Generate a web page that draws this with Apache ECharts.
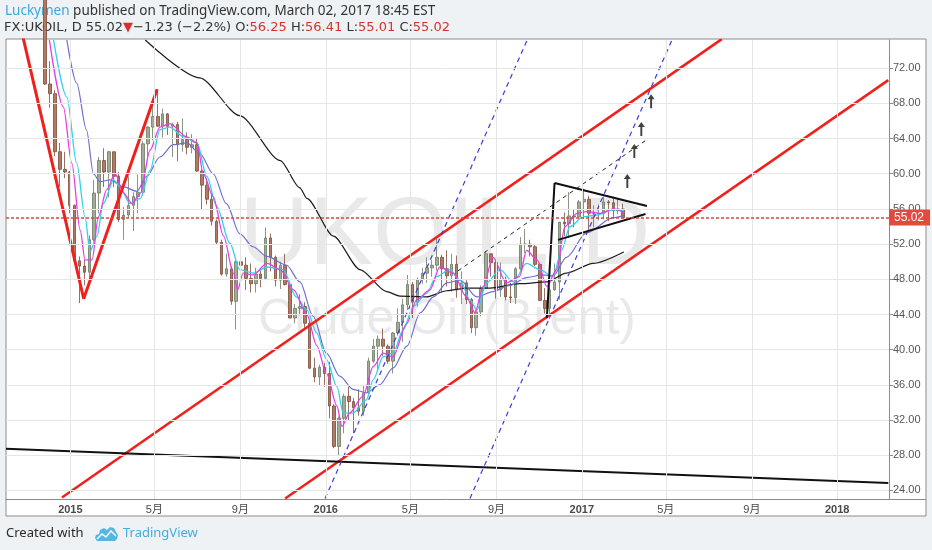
<!DOCTYPE html>
<html>
<head>
<meta charset="utf-8">
<title>UKOIL, D</title>
<script src="https://cdn.jsdelivr.net/npm/echarts@6/dist/echarts.min.js"></script>
<style>
  html, body { margin: 0; padding: 0; background: #eef2f5; }
  #main { width: 932px; height: 550px; }
</style>
</head>
<body>
<div id="main"></div>
<script>
// weekly bars (mid-week date)
var weeks = [
  '2014-11-26', '2014-12-03', '2014-12-10', '2014-12-17', '2014-12-24', '2014-12-31',
  '2015-01-07', '2015-01-14', '2015-01-21', '2015-01-28', '2015-02-04', '2015-02-11', '2015-02-18', '2015-02-25',
  '2015-03-04', '2015-03-11', '2015-03-18', '2015-03-25', '2015-04-01', '2015-04-08', '2015-04-15', '2015-04-22',
  '2015-04-29', '2015-05-06', '2015-05-13', '2015-05-20', '2015-05-27', '2015-06-03', '2015-06-10', '2015-06-17',
  '2015-06-24', '2015-07-01', '2015-07-08', '2015-07-15', '2015-07-22', '2015-07-29', '2015-08-05', '2015-08-12',
  '2015-08-19', '2015-08-26', '2015-09-02', '2015-09-09', '2015-09-16', '2015-09-23', '2015-09-30', '2015-10-07',
  '2015-10-14', '2015-10-21', '2015-10-28', '2015-11-04', '2015-11-11', '2015-11-18', '2015-11-25', '2015-12-02',
  '2015-12-09', '2015-12-16', '2015-12-23', '2015-12-30',
  '2016-01-06', '2016-01-13', '2016-01-20', '2016-01-27', '2016-02-03', '2016-02-10', '2016-02-17', '2016-02-24',
  '2016-03-02', '2016-03-09', '2016-03-16', '2016-03-23', '2016-03-30', '2016-04-06', '2016-04-13', '2016-04-20',
  '2016-04-27', '2016-05-04', '2016-05-11', '2016-05-18', '2016-05-25', '2016-06-01', '2016-06-08', '2016-06-15',
  '2016-06-22', '2016-06-29', '2016-07-06', '2016-07-13', '2016-07-20', '2016-07-27', '2016-08-03', '2016-08-10',
  '2016-08-17', '2016-08-24', '2016-08-31', '2016-09-07', '2016-09-14', '2016-09-21', '2016-09-28', '2016-10-05',
  '2016-10-12', '2016-10-19', '2016-10-26', '2016-11-02', '2016-11-09', '2016-11-16', '2016-11-23', '2016-11-30',
  '2016-12-07', '2016-12-14', '2016-12-21', '2016-12-28',
  '2017-01-04', '2017-01-11', '2017-01-18', '2017-01-25', '2017-02-01', '2017-02-08', '2017-02-15', '2017-02-22',
  '2017-03-01'
]
var opens = [
  80.0, 70.2, 69.1, 62.5, 60.5, 60.2,
  56.4, 50.1, 49.5, 48.8, 52.5, 57.8, 61.5, 60.2,
  62.5, 59.7, 54.8, 55.3, 56.4, 57.4, 57.9, 63.4,
  65.3, 66.5, 65.4, 66.8, 65.4, 65.6, 63.3, 63.9,
  63.0, 63.3, 60.3, 58.7, 57.1, 54.6, 52.2, 48.6,
  49.2, 45.5, 50.0, 49.6, 48.1, 47.5, 48.6, 48.1,
  52.7, 50.5, 47.9, 49.6, 47.4, 43.6, 44.7, 44.9,
  43.0, 37.9, 36.9, 38.0,
  37.3, 33.6, 29.0, 32.2, 34.7, 34.1, 33.4, 33.0,
  35.1, 38.7, 40.4, 41.2, 40.4, 38.7, 41.9, 43.1,
  45.1, 47.4, 45.4, 48.0, 48.7, 49.3, 49.6, 50.5,
  49.2, 48.4, 49.7, 46.8, 47.6, 45.7, 42.5, 44.3,
  47.0, 50.9, 49.9, 46.8, 48.0, 46.0, 45.9, 49.2,
  52.0, 52.0, 51.7, 49.7, 45.6, 44.7, 46.8, 47.7,
  54.5, 54.3, 55.2, 55.1,
  56.8, 57.1, 55.5, 55.5, 55.5, 56.8, 56.7, 55.8,
  56.0
]
var highs = [
  80.5, 72.8, 69.5, 63.5, 62.5, 60.3,
  56.5, 50.6, 50.2, 53.0, 59.3, 61.9, 62.9, 62.6,
  62.5, 60.2, 56.2, 59.7, 57.9, 59.9, 63.7, 65.4,
  67.8, 69.6, 67.4, 66.9, 65.8, 65.9, 66.3, 64.7,
  64.5, 64.0, 60.5, 59.5, 57.8, 54.8, 52.5, 50.9,
  49.5, 50.5, 54.3, 50.5, 49.8, 49.3, 49.0, 53.9,
  53.2, 50.7, 50.0, 50.9, 47.8, 45.2, 46.3, 45.4,
  43.3, 39.1, 38.3, 38.5,
  38.6, 33.8, 32.4, 35.0, 35.8, 34.5, 35.5, 35.9,
  39.1, 41.2, 41.6, 42.4, 40.6, 42.0, 44.7, 45.8,
  48.5, 47.7, 48.2, 49.3, 50.5, 50.2, 52.8, 50.8,
  51.3, 50.9, 50.7, 48.9, 47.9, 45.9, 44.5, 47.3,
  51.2, 50.9, 50.2, 49.9, 48.3, 47.6, 49.4, 52.8,
  53.7, 52.5, 51.9, 49.9, 47.0, 47.2, 49.8, 54.5,
  55.6, 57.9, 55.9, 57.0,
  58.3, 57.5, 56.4, 56.5, 57.4, 57.0, 57.4, 57.1,
  56.6
]
var lows = [
  70.1, 67.5, 62.0, 58.5, 59.5, 55.5,
  49.7, 45.3, 47.3, 47.5, 52.3, 55.5, 58.5, 57.3,
  58.5, 54.5, 52.5, 55.0, 53.5, 55.5, 57.5, 61.5,
  63.8, 65.5, 64.1, 64.4, 61.9, 61.4, 62.5, 62.2,
  62.3, 60.2, 55.9, 56.5, 54.1, 51.9, 48.4, 48.3,
  45.1, 42.3, 48.5, 46.8, 46.5, 46.5, 47.1, 47.9,
  48.9, 47.2, 46.9, 47.3, 43.6, 43.0, 43.9, 42.5,
  37.8, 36.3, 35.9, 35.8,
  32.2, 28.8, 27.9, 30.5, 32.0, 30.5, 32.5, 32.5,
  34.9, 38.5, 37.5, 39.3, 38.4, 37.3, 41.6, 40.9,
  44.5, 43.6, 44.9, 47.5, 47.6, 48.3, 49.0, 46.6,
  47.2, 46.6, 45.9, 45.2, 45.2, 41.9, 41.6, 43.8,
  46.9, 48.3, 45.8, 46.0, 45.6, 45.3, 45.2, 49.0,
  51.0, 50.6, 49.5, 45.6, 44.1, 43.5, 46.7, 45.7,
  52.9, 52.7, 53.9, 54.9,
  54.9, 53.6, 53.9, 54.7, 54.8, 54.6, 55.0, 55.4,
  55.0
]
var closes = [
  70.2, 69.1, 62.5, 60.5, 60.2, 56.4,
  50.1, 49.5, 48.8, 52.5, 57.8, 61.5, 60.2, 62.5,
  59.7, 54.8, 55.3, 56.4, 57.4, 57.9, 63.4, 65.3,
  66.5, 65.4, 66.8, 65.4, 65.6, 63.3, 63.9, 63.0,
  63.3, 60.3, 58.7, 57.1, 54.6, 52.2, 48.6, 49.2,
  45.5, 50.0, 49.6, 48.1, 47.5, 48.6, 48.1, 52.7,
  50.5, 47.9, 49.6, 47.4, 43.6, 44.7, 44.9, 43.0,
  37.9, 36.9, 38.0, 37.3,
  33.6, 29.0, 32.2, 34.7, 34.1, 33.4, 33.0, 35.1,
  38.7, 40.4, 41.2, 40.4, 38.7, 41.9, 43.1, 45.1,
  47.4, 45.4, 48.0, 48.7, 49.3, 49.6, 50.5, 49.2,
  48.4, 49.7, 46.8, 47.6, 45.7, 42.5, 44.3, 47.0,
  50.9, 49.9, 46.8, 48.0, 46.0, 45.9, 49.2, 52.0,
  52.0, 51.7, 49.7, 45.6, 44.7, 46.8, 47.7, 54.5,
  54.3, 55.2, 55.1, 56.8,
  57.1, 55.5, 55.5, 55.5, 56.8, 56.7, 55.8, 56.0,
  55.02
]

// moving averages as drawn (fast magenta, cyan, slow slate, black 200)
var maFast = [
  ['2014-12-02', 75.2], ['2014-12-22', 67.6], ['2015-01-03', 61.2], ['2015-01-15', 53.6],
  ['2015-01-22', 50.2], ['2015-02-01', 50.2], ['2015-02-10', 55.1], ['2015-02-22', 58.2], ['2015-03-06', 60.0],
  ['2015-03-18', 57.8], ['2015-03-30', 56.6], ['2015-04-11', 57.8], ['2015-04-25', 62.7], ['2015-05-09', 65.3],
  ['2015-05-23', 65.7], ['2015-06-16', 64.2], ['2015-07-01', 63.5], ['2015-07-10', 60.0], ['2015-07-24', 57.4],
  ['2015-08-08', 52.9], ['2015-08-22', 48.7], ['2015-08-28', 46.8], ['2015-09-05', 48.7], ['2015-09-19', 48.5],
  ['2015-10-09', 49.8], ['2015-10-28', 49.1], ['2015-11-16', 46.8], ['2015-12-05', 44.0], ['2015-12-19', 40.5],
  ['2016-01-02', 37.3], ['2016-01-17', 33.6], ['2016-01-24', 31.3], ['2016-02-04', 32.8], ['2016-02-23', 34.7],
  ['2016-03-09', 38.1], ['2016-03-23', 39.6], ['2016-04-06', 39.2], ['2016-04-26', 43.0], ['2016-05-10', 45.7],
  ['2016-05-29', 46.8], ['2016-06-12', 49.4], ['2016-07-01', 48.7], ['2016-07-20', 46.0], ['2016-08-01', 44.2],
  ['2016-08-13', 47.2], ['2016-08-27', 50.5], ['2016-09-15', 47.6], ['2016-10-04', 48.3], ['2016-10-14', 51.3],
  ['2016-10-29', 50.2], ['2016-11-12', 47.2], ['2016-11-26', 49.1], ['2016-12-08', 54.0], ['2016-12-25', 55.5],
  ['2017-01-08', 55.7], ['2017-01-27', 55.5], ['2017-02-15', 56.0], ['2017-03-02', 55.6]
]
var maMid = [
  ['2014-12-08', 75.2], ['2014-12-27', 68.7], ['2015-01-10', 61.2], ['2015-01-22', 55.1],
  ['2015-01-29', 51.2], ['2015-02-08', 52.9], ['2015-02-17', 56.6], ['2015-03-04', 59.3], ['2015-03-13', 58.5],
  ['2015-03-27', 56.6], ['2015-04-11', 57.2], ['2015-04-25', 60.4], ['2015-05-09', 65.0], ['2015-05-23', 65.3],
  ['2015-06-12', 64.2], ['2015-07-01', 63.5], ['2015-07-15', 59.7], ['2015-07-29', 56.3], ['2015-08-17', 52.1],
  ['2015-08-31', 49.1], ['2015-09-20', 48.7], ['2015-10-09', 49.4], ['2015-11-01', 49.1], ['2015-11-20', 46.0],
  ['2015-12-05', 44.5], ['2015-12-19', 41.9], ['2016-01-02', 38.9], ['2016-01-17', 35.8], ['2016-01-26', 32.8],
  ['2016-02-09', 32.8], ['2016-02-28', 34.3], ['2016-03-09', 36.6], ['2016-03-23', 39.2], ['2016-04-06', 39.6],
  ['2016-04-21', 42.3], ['2016-05-05', 44.9], ['2016-05-24', 46.4], ['2016-06-07', 48.3], ['2016-06-26', 49.1],
  ['2016-07-11', 47.9], ['2016-07-25', 45.7], ['2016-08-04', 44.5], ['2016-08-18', 47.6], ['2016-09-06', 49.1],
  ['2016-09-25', 47.7], ['2016-10-14', 49.8], ['2016-11-02', 49.1], ['2016-11-21', 48.3], ['2016-12-03', 51.3],
  ['2016-12-15', 54.0], ['2017-01-03', 55.1], ['2017-01-22', 55.3], ['2017-02-15', 55.9], ['2017-03-02', 55.8]
]
var maSlow = [
  ['2014-12-27', 75.2], ['2015-01-10', 70.3], ['2015-01-24', 65.0], ['2015-02-03', 60.0],
  ['2015-02-12', 59.1], ['2015-02-27', 59.3], ['2015-03-18', 58.5], ['2015-04-06', 58.0], ['2015-04-20', 59.7],
  ['2015-05-09', 61.9], ['2015-05-28', 63.3], ['2015-06-16', 63.5], ['2015-07-05', 62.3], ['2015-07-24', 60.0],
  ['2015-08-12', 56.6], ['2015-08-31', 53.2], ['2015-09-19', 51.7], ['2015-10-09', 50.6], ['2015-11-06', 49.6],
  ['2015-11-25', 47.7], ['2015-12-14', 43.8], ['2016-01-02', 39.6], ['2016-01-21', 37.0], ['2016-02-09', 35.5],
  ['2016-02-28', 35.1], ['2016-03-18', 36.0], ['2016-04-06', 37.9], ['2016-04-26', 40.4], ['2016-05-15', 44.2],
  ['2016-06-03', 46.0], ['2016-06-22', 47.6], ['2016-07-11', 47.9], ['2016-08-04', 46.0], ['2016-08-27', 46.6],
  ['2016-09-20', 47.3], ['2016-10-14', 48.2], ['2016-11-05', 48.5], ['2016-11-21', 48.4], ['2016-12-10', 50.5],
  ['2017-01-08', 53.3], ['2017-02-15', 55.0], ['2017-03-02', 55.3]
]
var ma200 = [
  ['2015-04-18', 75.2], ['2015-07-05', 70.9], ['2015-08-31', 66.6], ['2015-10-28', 61.5],
  ['2015-11-25', 58.4], ['2015-12-05', 57.2], ['2016-01-12', 52.9], ['2016-02-19', 49.1], ['2016-03-28', 46.6],
  ['2016-04-16', 46.1], ['2016-05-24', 46.0], ['2016-06-22', 46.7], ['2016-07-20', 47.0], ['2016-08-23', 47.0],
  ['2016-10-04', 47.5], ['2016-11-12', 47.7], ['2016-12-10', 48.7], ['2017-01-17', 49.8], ['2017-03-02', 51.1]
]

// hand drawn objects: anchor points [date, price]
var vPattern = [['2014-10-22', 76.65], ['2015-01-20', 45.8], ['2015-05-05', 69.6]]
var channelUpper = [['2014-12-20', 23.19], ['2017-07-20', 75.3]]
var channelLower = [['2015-11-04', 23.08], ['2018-03-15', 70.64]]
var supportLine = [['2014-10-01', 28.73], ['2018-03-15', 24.86]]
var blueLeft = [['2015-12-31', 23.08], ['2016-10-16', 75.4]]
var blueRight = [['2016-07-25', 23.08], ['2017-05-11', 75.4]]
var dashedTrend = [['2016-07-08', 48.96], ['2017-04-05', 63.94]]
var flagPole = [['2016-11-12', 43.6], ['2016-11-23', 58.95]]
var pennantTop = [['2016-11-23', 58.95], ['2017-04-04', 56.34]]
var pennantBottom = [['2016-11-28', 52.48], ['2017-04-02', 55.43]]
var arrows = [['2017-03-07', 59.17], ['2017-03-17', 62.58], ['2017-03-27', 65.08], ['2017-04-10', 68.25]]

var lastPrice = 55.02
var tickDates = ['2015-01-01', '2015-05-01', '2015-09-01', '2016-01-01', '2016-05-01', '2016-09-01',
  '2017-01-01', '2017-05-01', '2017-09-01', '2018-01-01']
var priceTicks = [24, 28, 32, 36, 40, 44, 48, 52, 56, 60, 64, 68, 72]

function ts(s) {
  var p = s.split('-')
  return new Date(+p[0], +p[1] - 1, +p[2]).getTime()
}
function toXY(list) {
  return list.map(function (p) { return [ts(p[0]), p[1]] })
}

var tickTimes = tickDates.map(ts)
var candles = weeks.map(function (d, i) {
  return [ts(d), opens[i], closes[i], lows[i], highs[i]]
})

var FONT = '"Liberation Sans", "Noto Sans CJK SC", sans-serif'
var RED = '#f0201c'

function drawing(data, color, width, type) {
  return {
    type: 'line',
    data: toXY(data),
    showSymbol: false,
    symbol: 'none',
    silent: true,
    z: 4,
    lineStyle: { color: color, width: width, type: type || 'solid' }
  }
}

function maLine(data, color, width, smooth) {
  return {
    type: 'line',
    data: toXY(data),
    showSymbol: false,
    symbol: 'none',
    smooth: smooth,
    smoothMonotone: 'x',
    silent: true,
    z: 3,
    lineStyle: { color: color, width: width }
  }
}

var chart = echarts.init(document.getElementById('main'))
var option = {
  animation: false,
  backgroundColor: '#eef2f5',
  grid: { left: 6, right: 43, top: 40, bottom: 51, outerBoundsMode: 'none' },
  xAxis: {
    type: 'value',
    min: ts('2014-10-01'),
    max: ts('2018-03-16'),
    axisLine: { lineStyle: { color: '#8c8c8c' } },
    axisTick: { show: false },
    splitLine: { show: false },
    axisLabel: {
      customValues: tickTimes,
      hideOverlap: false,
      margin: 5,
      fontSize: 11,
      fontFamily: FONT,
      color: '#4a4a4a',
      formatter: function (v) {
        var d = new Date(v)
        if (d.getMonth() === 0) return '{yr|' + d.getFullYear() + '}'
        return (d.getMonth() + 1) + '月'
      },
      rich: { yr: { fontWeight: 'bold', fontSize: 11, fontFamily: FONT, color: '#4a4a4a' } }
    }
  },
  yAxis: {
    type: 'value',
    position: 'right',
    min: 23.03,
    max: 75.2,
    scale: true,
    axisLine: { show: true, lineStyle: { color: '#8c8c8c' } },
    axisTick: { show: true, customValues: priceTicks, length: 4, lineStyle: { color: '#8c8c8c' } },
    splitLine: { show: false },
    axisLabel: {
      customValues: priceTicks,
      margin: 4,
      fontSize: 11,
      fontFamily: FONT,
      color: '#555',
      formatter: function (v) { return v.toFixed(2) }
    }
  },
  graphic: [
    {
      type: 'rect', z: -10, silent: true,
      shape: { x: 6, y: 39, width: 920, height: 477 },
      style: { fill: '#fff', stroke: '#8c8c8c', lineWidth: 1 }
    },
    {
      type: 'line', z: 10, silent: true,
      shape: { x1: 889, y1: 499.5, x2: 926, y2: 499.5 },
      style: { stroke: '#8c8c8c', lineWidth: 1 }
    },
    {
      type: 'text', z: -5, silent: true, x: 445, y: 238,
      style: { text: 'UKOIL, D', fontSize: 96, fontFamily: FONT, fill: 'rgba(0,0,0,0.085)', align: 'center', verticalAlign: 'middle' }
    },
    {
      type: 'text', z: -5, silent: true, x: 447, y: 320,
      style: { text: 'Crude Oil (Brent)', fontSize: 50, fontFamily: FONT, fill: 'rgba(0,0,0,0.085)', align: 'center', verticalAlign: 'middle' }
    },
    {
      type: 'text', silent: true, x: 5, y: 11,
      style: {
        text: '{b|Luckymen} published on TradingView.com, March 02, 2017 18:45 EST',
        fontSize: 13.5, fontFamily: '"Noto Sans", sans-serif', fill: '#333', verticalAlign: 'middle',
        rich: { b: { fill: '#3aa8dc', fontSize: 13.5, fontFamily: '"Noto Sans", sans-serif' } }
      }
    },
    {
      type: 'text', silent: true, x: 4, y: 28,
      style: {
        text: 'FX:UKOIL, D 55.02{r|▼}−1.23 (−2.2%) O:{r|56.25} H:{r|56.41} L:{r|55.01} C:{r|55.02}',
        fontSize: 13, fontFamily: '"DejaVu Sans", sans-serif', fill: '#333', verticalAlign: 'middle',
        rich: { r: { fill: '#d8312a', fontSize: 13, fontFamily: '"DejaVu Sans", sans-serif' } }
      }
    },
    {
      type: 'text', silent: true, x: 6, y: 533,
      style: { text: 'Created with', fontSize: 13, fontFamily: '"Noto Sans", sans-serif', fill: '#2a2a2a', verticalAlign: 'middle' }
    },
    {
      type: 'polygon', silent: true, x: 95, y: 525,
      shape: { points: [[2, 16], [0, 13], [1, 10], [4, 9], [5, 5], [9, 3], [12, 5], [15, 2], [19, 3], [21, 7], [23, 10], [22, 14], [20, 16]] },
      style: { fill: '#55b6e2' }
    },
    {
      type: 'polyline', silent: true, x: 95, y: 525,
      shape: { points: [[2, 14], [7, 9], [11, 12], [16, 6], [21, 11]] },
      style: { stroke: '#eef2f5', lineWidth: 1.6, fill: null }
    },
    {
      type: 'text', silent: true, x: 123, y: 533,
      style: { text: 'TradingView', fontSize: 13, fontFamily: '"Noto Sans", sans-serif', fill: '#45ade0', verticalAlign: 'middle' }
    }
  ],
  series: [
    {
      // grid lines at the labelled ticks
      type: 'line',
      data: [[tickTimes[0], null]],
      silent: true,
      z: 1,
      symbol: 'none',
      markLine: {
        silent: true,
        symbol: 'none',
        animation: false,
        label: { show: false },
        lineStyle: { color: '#e6e6e6', width: 1, type: 'solid' },
        data: tickTimes.map(function (t) { return { xAxis: t } })
          .concat(priceTicks.map(function (p) { return { yAxis: p } }))
      }
    },
    {
      type: 'candlestick',
      data: candles,
      encode: { x: 0, y: [1, 2, 3, 4] },
      barWidth: 3,
      silent: true,
      z: 2,
      itemStyle: {
        color: '#a3ab95',
        color0: '#b27a62',
        borderColor: '#6c7a64',
        borderColor0: '#7b4c3c',
        borderWidth: 0.8
      },
      markLine: {
        silent: true,
        symbol: 'none',
        animation: false,
        data: [{ yAxis: lastPrice }],
        lineStyle: { color: '#e0443a', width: 1.5, type: [3, 2] },
        label: {
          position: 'end',
          distance: 0,
          formatter: lastPrice.toFixed(2),
          color: '#fff',
          backgroundColor: '#e24a3e',
          padding: [2, 6, 2, 5],
          fontSize: 12,
          fontFamily: FONT
        }
      }
    },
    maLine(ma200, '#1c1c1c', 1.2, 0.25),
    maLine(maSlow, '#6f6fd0', 1.2, 0.3),
    maLine(maMid, '#2fd3e6', 1.3, 0.3),
    maLine(maFast, '#e63ee6', 1.3, 0.3),
    drawing(vPattern, RED, 3),
    drawing(channelUpper, RED, 2.5),
    drawing(channelLower, RED, 2.5),
    drawing(supportLine, '#111', 2),
    drawing(blueLeft, '#3c3cdc', 1.2, [5, 4]),
    drawing(blueRight, '#3c3cdc', 1.2, [5, 4]),
    drawing(dashedTrend, '#222', 1, [4, 4]),
    drawing(flagPole, '#111', 2),
    drawing(pennantTop, '#111', 2),
    drawing(pennantBottom, '#111', 2),
    {
      type: 'scatter',
      data: toXY(arrows),
      silent: true,
      z: 5,
      symbol: 'path://M4,0 L8,5 L5.1,5 L5.1,14 L2.9,14 L2.9,5 L0,5 Z',
      symbolSize: [7, 14],
      itemStyle: { color: '#111' }
    }
  ]
}
chart.setOption(option)
</script>
</body>
</html>
